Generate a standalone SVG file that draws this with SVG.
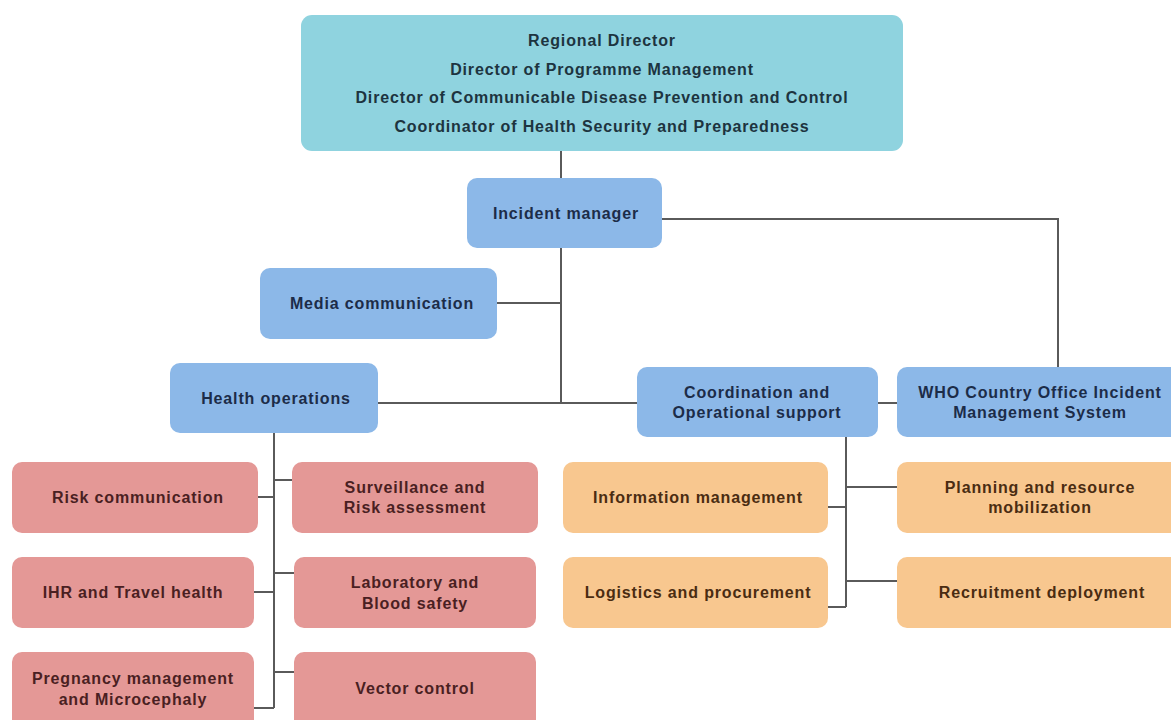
<svg xmlns="http://www.w3.org/2000/svg" width="1171" height="720" viewBox="0 0 1171 720">
<style>
text{font-family:"Liberation Sans",Arial,sans-serif;font-weight:bold;font-size:16px;letter-spacing:0.85px;text-anchor:middle;dominant-baseline:central}
.top rect{fill:#8fd3df}
.top text{fill:#1d3440}
.blue rect{fill:#8cb8e8}
.blue text{fill:#1c2c48}
.red rect{fill:#e49896}
.red text{fill:#4a1f22}
.org rect{fill:#f8c78f}
.org text{fill:#4a2c12}
#connectors path{fill:none;stroke:#5a5a5a;stroke-width:2}
</style>
<rect width="1171" height="720" fill="#ffffff"/>
<g id="connectors">
<path d="M561 151V178"/>
<path d="M561 248V403"/>
<path d="M497 303H561"/>
<path d="M378 403H637"/>
<path d="M878 403H897"/>
<path d="M662 219H1058V367"/>
<path d="M274 433V708"/>
<path d="M258 497H274M274 480H292M254 592H274M274 573H294M254 708H274M274 672H294"/>
<path d="M846 437V607"/>
<path d="M828 507H846M846 487H897M828 607H846M846 581H897"/>
</g>
<g id="n-top" class="top">
<rect x="301" y="15" width="602" height="136" rx="11"/>
<text x="602" y="40">Regional Director</text>
<text x="602" y="69">Director of Programme Management</text>
<text x="602" y="97">Director of Communicable Disease Prevention and Control</text>
<text x="602" y="126">Coordinator of Health Security and Preparedness</text>
</g>
<g id="n-incident" class="blue">
<rect x="467" y="178" width="195" height="70" rx="10"/>
<text x="566" y="213">Incident manager</text>
</g>
<g id="n-media" class="blue">
<rect x="260" y="268" width="237" height="71" rx="10"/>
<text x="382" y="303">Media communication</text>
</g>
<g id="n-health" class="blue">
<rect x="170" y="363" width="208" height="70" rx="10"/>
<text x="276" y="398">Health operations</text>
</g>
<g id="n-coord" class="blue">
<rect x="637" y="367" width="241" height="70" rx="10"/>
<text x="757" y="392">Coordination and</text>
<text x="757" y="412">Operational support</text>
</g>
<g id="n-who" class="blue">
<rect x="897" y="367" width="290" height="70" rx="10"/>
<text x="1040" y="392">WHO Country Office Incident</text>
<text x="1040" y="412">Management System</text>
</g>
<g id="n-risk" class="red">
<rect x="12" y="462" width="246" height="71" rx="10"/>
<text x="138" y="497">Risk communication</text>
</g>
<g id="n-surv" class="red">
<rect x="292" y="462" width="246" height="71" rx="10"/>
<text x="415" y="487">Surveillance and</text>
<text x="415" y="507">Risk assessment</text>
</g>
<g id="n-ihr" class="red">
<rect x="12" y="557" width="242" height="71" rx="10"/>
<text x="133" y="592">IHR and Travel health</text>
</g>
<g id="n-lab" class="red">
<rect x="294" y="557" width="242" height="71" rx="10"/>
<text x="415" y="582">Laboratory and</text>
<text x="415" y="603">Blood safety</text>
</g>
<g id="n-preg" class="red">
<rect x="12" y="652" width="242" height="80" rx="10"/>
<text x="133" y="678">Pregnancy management</text>
<text x="133" y="699">and Microcephaly</text>
</g>
<g id="n-vector" class="red">
<rect x="294" y="652" width="242" height="80" rx="10"/>
<text x="415" y="688">Vector control</text>
</g>
<g id="n-info" class="org">
<rect x="563" y="462" width="265" height="71" rx="10"/>
<text x="698" y="497">Information management</text>
</g>
<g id="n-plan" class="org">
<rect x="897" y="462" width="290" height="71" rx="10"/>
<text x="1040" y="487">Planning and resource</text>
<text x="1040" y="507">mobilization</text>
</g>
<g id="n-log" class="org">
<rect x="563" y="557" width="265" height="71" rx="10"/>
<text x="698" y="592">Logistics and procurement</text>
</g>
<g id="n-recruit" class="org">
<rect x="897" y="557" width="290" height="71" rx="10"/>
<text x="1042" y="592">Recruitment deployment</text>
</g>
</svg>
